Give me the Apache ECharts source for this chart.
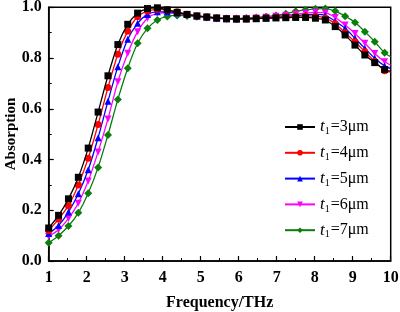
<!DOCTYPE html>
<html>
<head>
<meta charset="utf-8">
<script src="https://cdn.jsdelivr.net/npm/echarts@6/dist/echarts.min.js"></script>
<style>html,body{margin:0;padding:0;background:#fff}#c{width:400px;height:312px}</style>
</head>
<body>
<div id="c"></div>
<script>
const freq = [1.00,1.26,1.52,1.78,2.04,2.30,2.56,2.82,3.08,3.34,3.60,3.86,4.12,4.38,4.64,4.90,5.16,5.42,5.68,5.94,6.20,6.46,6.72,6.98,7.24,7.50,7.76,8.02,8.28,8.54,8.80,9.06,9.32,9.58,9.84,10.00];
const t3 = [0.130,0.180,0.245,0.330,0.445,0.587,0.730,0.853,0.933,0.977,0.995,0.998,0.990,0.980,0.972,0.966,0.962,0.958,0.955,0.954,0.954,0.955,0.957,0.958,0.959,0.960,0.960,0.957,0.950,0.924,0.891,0.851,0.812,0.782,0.755,0.748];
const t4 = [0.120,0.165,0.218,0.300,0.405,0.538,0.684,0.815,0.906,0.963,0.985,0.992,0.990,0.982,0.973,0.966,0.962,0.958,0.955,0.954,0.954,0.956,0.958,0.961,0.963,0.965,0.966,0.965,0.957,0.935,0.900,0.864,0.825,0.786,0.750,0.745];
const t5 = [0.108,0.140,0.193,0.265,0.360,0.486,0.630,0.766,0.874,0.937,0.972,0.982,0.982,0.978,0.972,0.966,0.961,0.957,0.955,0.954,0.955,0.956,0.958,0.961,0.964,0.967,0.970,0.972,0.968,0.945,0.917,0.878,0.838,0.799,0.769,0.758];
const t6 = [0.097,0.123,0.168,0.228,0.315,0.430,0.560,0.707,0.819,0.904,0.957,0.976,0.978,0.975,0.970,0.965,0.960,0.957,0.955,0.955,0.956,0.958,0.961,0.965,0.969,0.973,0.977,0.980,0.978,0.960,0.930,0.897,0.858,0.818,0.785,0.772];
const t7 = [0.072,0.100,0.138,0.190,0.267,0.369,0.497,0.637,0.760,0.858,0.917,0.950,0.964,0.968,0.966,0.963,0.960,0.957,0.956,0.956,0.958,0.960,0.963,0.968,0.975,0.984,0.990,0.994,0.995,0.985,0.965,0.940,0.904,0.864,0.821,0.805];
const seriesNames = ['t1=3μm','t1=4μm','t1=5μm','t1=6μm','t1=7μm'];
const seriesValues = [t3, t4, t5, t6, t7];
const colors = ['#000000','#ff0000','#0000ff','#ff00ff','#0a7d0a'];
const symbols = ['rect','circle','triangle','triangle','diamond'];
const rotates = [0,0,0,180,0];
const xTicks = [1,2,3,4,5,6,7,8,9,10];
const yTicks = [0.0,0.2,0.4,0.6,0.8,1.0];
const yTitle = 'Absorption';

const FONT = 'Liberation Serif';
const chart = echarts.init(document.getElementById('c'), null, {renderer:'canvas'});
const lastIdx = freq.length - 1;
const series = seriesNames.map((name, k) => ({
  name: name,
  type: 'line',
  data: freq.map((f, i) => [f, seriesValues[k][i]]),
  smooth: 0.25,
  symbol: symbols[k],
  symbolRotate: rotates[k],
  symbolSize: (v, p) => p.dataIndex === lastIdx ? 0 : (symbols[k] === 'diamond' ? 8 : 7),
  showAllSymbol: true,
  lineStyle: {color: colors[k], width: 1.3},
  itemStyle: {color: colors[k], borderWidth: 0},
  emphasis: {disabled: true},
  animation: false,
  z: 5 - k
}));

chart.setOption({
  animation: false,
  grid: {left: 48.7, right: 9.3, top: 7.3, bottom: 51, containLabel: false, outerBoundsMode: 'none',
    show: true, borderColor: '#000', borderWidth: 1.5, backgroundColor: 'transparent'},
  graphic: [{
    type: 'text', x: 11, y: 134, rotation: Math.PI / 2,
    style: {text: yTitle, fontFamily: FONT, fontWeight: 'bold', fontSize: 15, fill: '#000',
      align: 'center', verticalAlign: 'middle'}
  }],
  legend: {
    orient: 'vertical',
    left: 279,
    top: 112.5,
    itemWidth: 30,
    itemHeight: 7,
    itemGap: 6.8,
    data: seriesNames,
    formatter: function (name) {
      const rest = name.slice(2);
      return '{i|t}{s|1}{n|' + rest + '}';
    },
    textStyle: {
      fontFamily: FONT, color: '#000', fontSize: 16,
      rich: {
        i: {fontFamily: FONT, fontStyle: 'italic', fontSize: 17, color: '#000', lineHeight: 18},
        s: {fontFamily: FONT, fontSize: 10, color: '#000', padding: [9, 1, 0, 0], lineHeight: 18},
        n: {fontFamily: FONT, fontSize: 16, color: '#000', lineHeight: 18}
      }
    }
  },
  xAxis: {
    type: 'value', min: 1, max: 10, interval: 1,
    name: 'Frequency/THz', nameLocation: 'middle', nameGap: 34,
    nameTextStyle: {fontFamily: FONT, fontWeight: 'bold', fontSize: 16, color: '#000'},
    axisLine: {show: true, lineStyle: {color: '#000', width: 1.5}},
    axisTick: {show: true, inside: true, length: 5, lineStyle: {color: '#000', width: 1.2}},
    minorTick: {show: true, splitNumber: 2, length: 3, lineStyle: {color: '#000', width: 1}},
    axisLabel: {fontFamily: FONT, fontWeight: 'bold', fontSize: 16, color: '#000', margin: 9,
      formatter: v => xTicks.includes(v) ? String(v) : ''},
    splitLine: {show: false}
  },
  yAxis: {
    type: 'value', min: 0, max: 1, interval: 0.2,
    axisLine: {show: true, lineStyle: {color: '#000', width: 1.5}},
    axisTick: {show: true, inside: true, length: 5, lineStyle: {color: '#000', width: 1.2}},
    minorTick: {show: true, splitNumber: 2, length: 3, lineStyle: {color: '#000', width: 1}},
    axisLabel: {fontFamily: FONT, fontWeight: 'bold', fontSize: 16, color: '#000', margin: 7,
      formatter: v => yTicks.some(t => Math.abs(t - v) < 1e-9) ? v.toFixed(1) : ''},
    splitLine: {show: false}
  },
  series: series
});
</script>
</body>
</html>
